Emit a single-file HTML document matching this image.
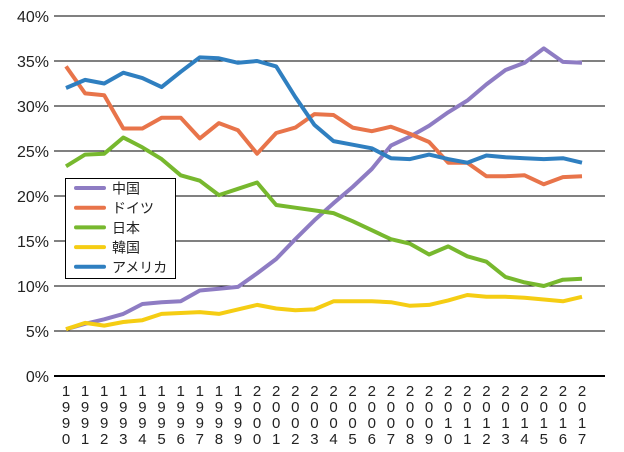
<!DOCTYPE html>
<html><head><meta charset="utf-8"><style>
html,body{margin:0;padding:0;background:#fff;}
svg{display:block;font-family:"Liberation Sans","Noto Sans CJK JP",sans-serif;}
</style></head><body>
<svg id="s" width="624" height="452" viewBox="0 0 624 452" xmlns="http://www.w3.org/2000/svg"></svg>
<script>
const s=document.getElementById('s');
let h='';
for(let k=0;k<=8;k++){const y=376-45*k;
h+=`<line x1="54" x2="605" y1="${y}" y2="${y}" stroke="#000" stroke-width="${k==0?2:1}"/>`;
h+=`<text x="49" y="${y+6}" font-size="16" text-anchor="end" fill="#222">${k*5}%</text>`;}
const X=i=>66+i*19.11,Y=v=>376-9*v;
const D=[
["#8e7cc3",[5.2,5.8,6.3,6.9,8.0,8.2,8.3,9.5,9.7,9.9,11.4,13.0,15.2,17.3,19.2,21.0,23.0,25.6,26.6,27.8,29.3,30.6,32.4,34.0,34.8,36.4,34.9,34.8]],
["#e8744a",[34.4,31.4,31.2,27.5,27.5,28.7,28.7,26.4,28.1,27.3,24.7,27.0,27.6,29.1,29.0,27.6,27.2,27.7,26.9,26.0,23.7,23.7,22.2,22.2,22.3,21.3,22.1,22.2]],
["#77b82e",[23.3,24.6,24.7,26.5,25.4,24.1,22.3,21.7,20.1,20.8,21.5,19.0,18.7,18.4,18.1,17.2,16.2,15.2,14.7,13.5,14.4,13.3,12.7,11.0,10.4,10.0,10.7,10.8]],
["#f5cd13",[5.2,5.9,5.6,6.0,6.2,6.9,7.0,7.1,6.9,7.4,7.9,7.5,7.3,7.4,8.3,8.3,8.3,8.2,7.8,7.9,8.4,9.0,8.8,8.8,8.7,8.5,8.3,8.8]],
["#2f7fc0",[32.0,32.9,32.5,33.7,33.1,32.1,33.8,35.4,35.3,34.8,35.0,34.4,31.0,27.9,26.1,25.7,25.3,24.2,24.1,24.6,24.1,23.7,24.5,24.3,24.2,24.1,24.2,23.7]]];
D.forEach(([c,v])=>{h+=`<polyline fill="none" stroke="${c}" stroke-width="4" stroke-linejoin="round" points="${v.map((a,i)=>X(i).toFixed(1)+','+Y(a).toFixed(1)).join(' ')}"/>`;});
h+=`<rect x="65.5" y="178.5" width="110" height="100" fill="#fff" stroke="#000"/>`;
const L=["中国","ドイツ","日本","韓国","アメリカ"];
L.forEach((t,i)=>{const y=188+i*19.7;h+=`<line x1="76" x2="104" y1="${y}" y2="${y}" stroke="${D[i][0]}" stroke-width="4" stroke-linecap="round"/><text x="112" y="${y+5.5}" font-size="14" fill="#222">${t}</text>`;});
for(let i=0;i<28;i++){const yr=String(1990+i);for(let j=0;j<4;j++)h+=`<text x="${X(i).toFixed(1)}" y="${396+j*16}" font-size="15" text-anchor="middle" fill="#222">${yr[j]}</text>`;}
s.innerHTML=h;
</script>
</body></html>
